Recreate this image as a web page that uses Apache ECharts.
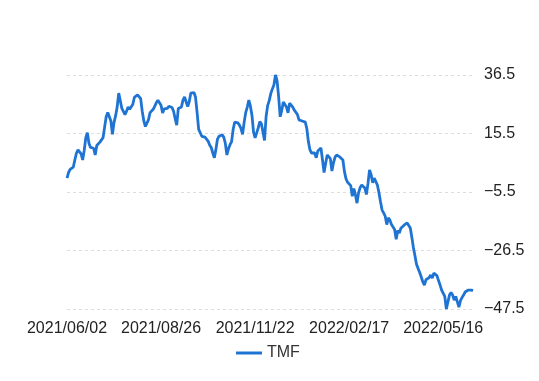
<!DOCTYPE html>
<html>
<head>
<meta charset="utf-8">
<script src="https://cdn.jsdelivr.net/npm/echarts@6/dist/echarts.min.js"></script>
<style>
html,body{margin:0;padding:0;background:#fff;}
#chart{width:539px;height:381px;}
</style>
</head>
<body>
<div id="chart"></div>
<script>
// Trading-day categories (weekdays from 2021/06/02, skipping market holidays)
var startDate = '2021-06-02';
var pointCount = 260;
var holidays = ['2021-07-05','2021-09-06','2021-10-11','2021-11-25','2021-12-24','2022-01-17','2022-02-21','2022-04-15','2022-05-30'];

var seriesName = 'TMF';
var tmfValues = [
  -0.5, 1.5, 2.6, 2.9, 3.4, 6.0, 8.4, 9.6, 9.0, 8.2,
  6.0, 9.5, 14.0, 15.8, 12.0, 10.5, 11.0, 10.2, 7.8, 11.2,
  11.8, 12.4, 13.0, 14.0, 17.8, 21.5, 23.0, 22.5, 20.0, 15.2,
  19.5, 21.8, 25.0, 30.0, 29.5, 24.5, 24.8, 22.3, 23.5, 25.0,
  24.2, 24.8, 26.0, 28.5, 29.2, 29.4, 29.3, 28.0, 23.5, 20.0,
  18.0, 17.3, 20.5, 23.0, 23.6, 24.2, 25.3, 26.6, 27.4, 27.0,
  25.6, 22.9, 24.3, 24.8, 24.5, 25.3, 25.6, 24.8, 23.5, 20.8,
  18.5, 24.5, 24.8, 25.0, 27.5, 28.6, 28.4, 25.2, 27.0, 30.0,
  30.4, 30.2, 28.5, 23.0, 17.0, 17.5, 14.5, 13.9, 14.2, 13.5,
  12.8, 11.4, 10.5, 8.5, 6.8, 9.8, 13.5, 14.5, 15.0, 15.0,
  14.2, 12.0, 7.8, 10.0, 11.5, 12.6, 17.0, 19.6, 19.5, 19.3,
  18.5, 17.3, 15.2, 19.5, 23.0, 25.0, 27.5, 25.3, 22.0, 16.0,
  13.9, 14.0, 17.5, 19.8, 19.0, 16.0, 13.0, 21.5, 25.5, 27.3,
  29.8, 31.5, 32.9, 36.5, 34.5, 28.8, 21.5, 23.8, 26.8, 26.5,
  25.0, 22.9, 26.4, 26.8, 25.0, 23.9, 24.0, 22.3, 20.4, 19.8,
  20.0, 20.3, 19.6, 17.2, 12.5, 9.6, 8.5, 7.8, 8.5, 6.8,
  9.2, 9.8, 10.3, 6.0, 1.5, 4.8, 7.8, 7.2, 6.5, 2.0,
  5.0, 7.0, 7.8, 7.4, 7.1, 6.8, 6.0, 1.8, -0.8, -2.0,
  -2.6, -3.2, -7.0, -4.3, -6.5, -9.5, -5.8, -3.9, -3.0, -3.4,
  -4.1, -6.4, -2.5, 2.4, 0.8, -2.2, -0.5, -1.2, -3.0, -5.8,
  -9.0, -12.0, -13.0, -14.2, -17.2, -14.8, -15.6, -17.2, -16.5, -19.0,
  -22.5, -19.3, -20.2, -18.5, -18.0, -17.4, -17.0, -16.6, -17.2, -18.4,
  -21.8, -25.5, -28.5, -31.5, -33.0, -34.4, -36.0, -37.8, -38.9, -37.0,
  -36.8, -36.2, -35.3, -36.4, -34.6, -35.0, -35.5, -37.3, -38.9, -40.7,
  -41.4, -43.0, -47.5, -45.0, -42.5, -41.6, -42.5, -44.3, -43.0, -42.8,
  -46.8, -44.5, -43.4, -42.5, -41.4, -41.5, -40.7, -40.8, -40.7, -40.9
];
var yTicks = [-47.5, -26.5, -5.5, 15.5, 36.5];
var xLabelStep = 60;

function pad(n){ return (n < 10 ? '0' : '') + n; }
function buildDates(start, count, skip){
  var out = [];
  var d = new Date(start + 'T00:00:00Z');
  while (out.length < count) {
    var wd = d.getUTCDay();
    var iso = d.getUTCFullYear() + '-' + pad(d.getUTCMonth()+1) + '-' + pad(d.getUTCDate());
    if (wd !== 0 && wd !== 6 && skip.indexOf(iso) < 0) {
      out.push(d.getUTCFullYear() + '/' + pad(d.getUTCMonth()+1) + '/' + pad(d.getUTCDate()));
    }
    d.setUTCDate(d.getUTCDate() + 1);
  }
  return out;
}
var categories = buildDates(startDate, pointCount, holidays);

var chart = echarts.init(document.getElementById('chart'), null, {renderer:'canvas'});
var fontFamily = '"Liberation Sans", Arial, sans-serif';
var lineColor = '#1f74d3';
chart.setOption({
  animation: false,
  backgroundColor: '#ffffff',
  grid: { left: 67, right: 66, top: 75, bottom: 72, containLabel: false },
  legend: {
    data: [{ name: seriesName, icon: 'rect' }],
    bottom: 15,
    left: 231,
    itemWidth: 26,
    itemHeight: 3,
    itemGap: 10,
    textStyle: { color: '#333', fontSize: 16, fontFamily: fontFamily }
  },
  xAxis: {
    type: 'category',
    data: categories,
    boundaryGap: false,
    axisLine: { show: false },
    axisTick: { show: false },
    splitLine: { show: false },
    axisLabel: {
      interval: xLabelStep - 1,
      hideOverlap: false,
      color: '#222', fontSize: 16, margin: 12, fontFamily: fontFamily
    }
  },
  yAxis: {
    type: 'value',
    position: 'right',
    min: yTicks[0],
    max: yTicks[yTicks.length-1],
    interval: 21,
    axisLine: { show: false },
    axisTick: { show: false },
    axisLabel: { color: '#222', fontSize: 16, margin: 11, fontFamily: fontFamily,
      formatter: function(v){ return (v < 0 ? '\u2212' + Math.abs(v).toFixed(1) : v.toFixed(1)); } },
    splitLine: { show: true, lineStyle: { color: '#dddddd', type: [3, 3], width: 1 } }
  },
  series: [{
    name: seriesName,
    type: 'line',
    data: tmfValues,
    symbol: 'none',
    lineStyle: { color: lineColor, width: 2.8 },
    itemStyle: { color: lineColor }
  }]
});
</script>
</body>
</html>
